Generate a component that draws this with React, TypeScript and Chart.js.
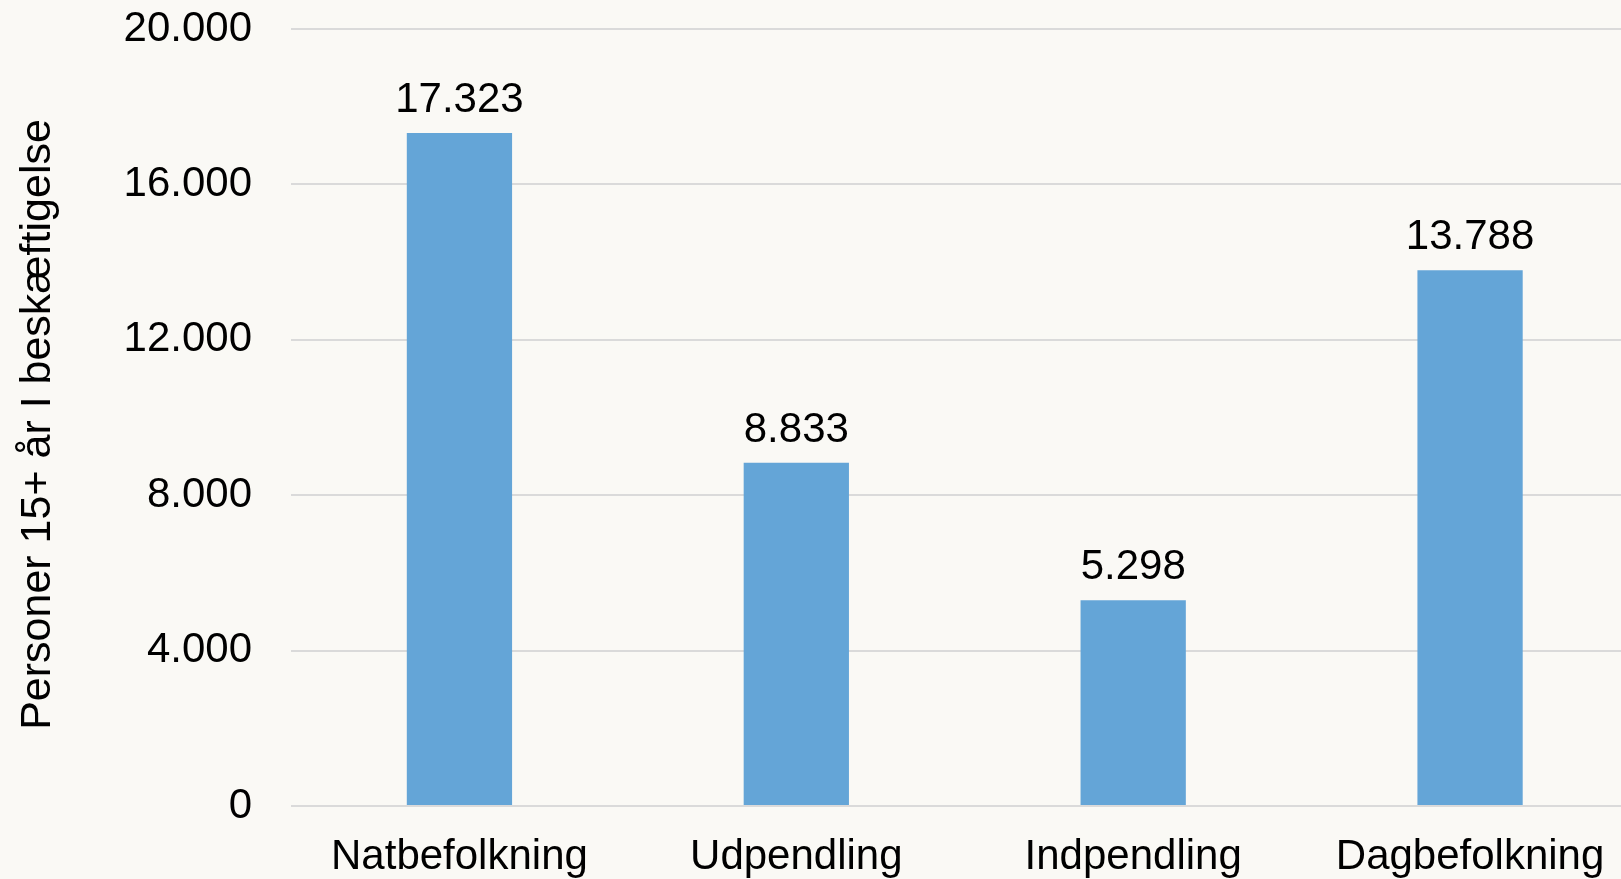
import React, { useEffect, useRef } from "react";
import { Chart, registerables } from "chart.js";

Chart.register(...registerables);

const categories = ["Natbefolkning", "Udpendling", "Indpendling", "Dagbefolkning"];
const values = [17323, 8833, 5298, 13788];
const yMin = 0;
const yMax = 20000;
const yStep = 4000;
const yAxisTitle = "Personer 15+ år I beskæftigelse";

const FONT = "'Liberation Sans', Arial, sans-serif";
const BG = "#faf9f5";
const BAR = "#64a5d7";
const GRID = "#dadada";

const fmt = (v: number) => {
  const s = Math.round(v).toString();
  return s.replace(/\B(?=(\d{3})+(?!\d))/g, ".");
};

const valueLabels = {
  id: "valueLabels",
  afterDatasetsDraw(chart: any) {
    const ctx = chart.ctx;
    const meta = chart.getDatasetMeta(0);
    ctx.save();
    ctx.font = `42px ${FONT}`;
    ctx.fillStyle = "#000000";
    ctx.textAlign = "center";
    ctx.textBaseline = "alphabetic";
    meta.data.forEach((bar: any, i: number) => {
      ctx.fillText(fmt(values[i]), bar.x, bar.y - 21);
    });
    ctx.restore();
  },
};

const axisTitle = {
  id: "axisTitle",
  afterDraw(chart: any) {
    const ctx = chart.ctx;
    const { top, bottom } = chart.chartArea;
    ctx.save();
    ctx.font = `43px ${FONT}`;
    ctx.fillStyle = "#000000";
    ctx.textAlign = "center";
    ctx.textBaseline = "middle";
    ctx.translate(38.5, (top + bottom) / 2 + 7);
    ctx.rotate(-Math.PI / 2);
    ctx.fillText(yAxisTitle, 0, 0);
    ctx.restore();
  },
};

export default function App() {
  const ref = useRef<HTMLCanvasElement | null>(null);

  useEffect(() => {
    if (!ref.current) return;
    const chart = new Chart(ref.current, {
      type: "bar",
      data: {
        labels: categories,
        datasets: [
          {
            data: values,
            backgroundColor: BAR,
            borderWidth: 0,
            categoryPercentage: 1,
            barPercentage: 0.3125,
          },
        ],
      },
      options: {
        animation: false,
        responsive: false,
        devicePixelRatio: 1,
        layout: { padding: { top: 29, right: 1.5, left: 0, bottom: 0 } },
        plugins: {
          legend: { display: false },
          tooltip: { enabled: false },
          title: { display: false },
        },
        scales: {
          x: {
            grid: { display: false, drawTicks: false },
            border: { display: false },
            ticks: {
              color: "#000000",
              font: { family: FONT, size: 42 },
              padding: 26,
              maxRotation: 0,
              autoSkip: false,
            },
            afterFit: (scale: any) => {
              scale.height = 73;
              scale.paddingLeft = 0;
              scale.paddingRight = 0;
            },
          },
          y: {
            min: yMin,
            max: yMax,
            grid: { color: GRID, lineWidth: 2, drawTicks: false },
            border: { display: false },
            ticks: {
              stepSize: yStep,
              color: "#000000",
              font: { family: FONT, size: 42 },
              padding: 39,
              callback: (v: any) => fmt(Number(v)),
            },
            title: { display: false },
            afterFit: (scale: any) => {
              scale.width = 291;
              scale.paddingTop = 0;
              scale.paddingBottom = 0;
            },
          },
        },
      },
      plugins: [valueLabels, axisTitle],
    });
    return () => chart.destroy();
  }, []);

  return (
    <div
      style={{
        position: "fixed",
        left: 0,
        top: 0,
        width: 1621,
        height: 879,
        overflow: "hidden",
        background: BG,
      }}
    >
      <canvas ref={ref} width={1640} height={879} style={{ display: "block" }} />
    </div>
  );
}
